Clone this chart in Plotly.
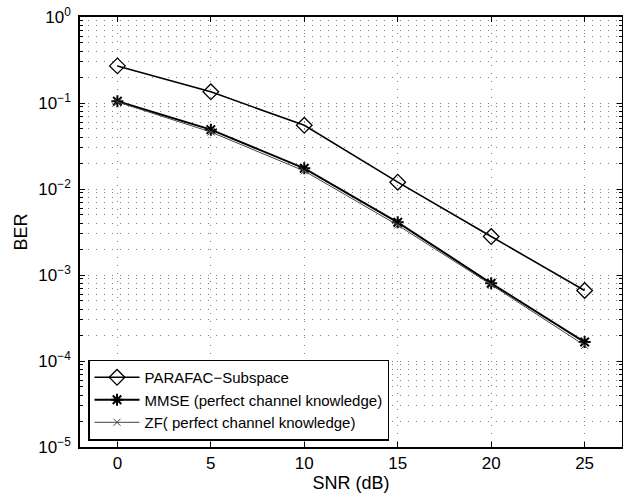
import plotly.graph_objects as go

snr = [0, 5, 10, 15, 20, 25]
ber_parafac = [0.27, 0.135, 0.055, 0.012, 0.0028, 0.00066]
ber_mmse = [0.105, 0.049, 0.0174, 0.0041, 0.00080, 0.000166]
ber_zf = [0.103, 0.046, 0.0162, 0.0038, 0.00077, 0.000152]

names = ["PARAFAC\u2212Subspace", "MMSE (perfect channel knowledge)", "ZF( perfect channel knowledge)"]

y_major = [1e-5, 1e-4, 1e-3, 1e-2, 1e-1, 1e0]
y_major_text = ["10<sup>\u22125</sup>", "10<sup>\u22124</sup>", "10<sup>\u22123</sup>",
                "10<sup>\u22122</sup>", "10<sup>\u22121</sup>", "10<sup>0</sup>"]
y_minor = [m * 10.0 ** e for e in range(-5, 0) for m in range(2, 10)]
x_ticks = [0, 5, 10, 15, 20, 25]

fig = go.Figure()
fig.add_trace(go.Scatter(x=snr, y=ber_parafac, name=names[0], mode="lines+markers",
                         line=dict(color="black", width=1.6),
                         marker=dict(symbol="diamond-open", size=12, color="black",
                                     line=dict(width=1.3, color="black"))))
fig.add_trace(go.Scatter(x=snr, y=ber_mmse, name=names[1], mode="lines+markers",
                         line=dict(color="black", width=2),
                         marker=dict(symbol="asterisk-open", size=10, color="black",
                                     line=dict(width=2, color="black"))))
fig.add_trace(go.Scatter(x=snr, y=ber_zf, name=names[2], mode="lines+markers",
                         line=dict(color="#444444", width=1),
                         marker=dict(symbol="x-thin-open", size=7, color="#444444",
                                     line=dict(width=1, color="#444444"))))

grid_dash = "1px,7px"
grid_color = "#808080"
tick_font = dict(family="Liberation Sans, Arial, sans-serif", size=17, color="black")
title_font = dict(family="Liberation Sans, Arial, sans-serif", size=18, color="black")

fig.update_layout(
    width=623, height=501,
    margin=dict(l=80, r=1, t=17, b=54),
    paper_bgcolor="white", plot_bgcolor="white",
    font=dict(family="Liberation Sans, Arial, sans-serif", size=15, color="black"),
    showlegend=True,
    legend=dict(x=0.0148, y=0.015, xanchor="left", yanchor="bottom",
                bgcolor="white", bordercolor="black", borderwidth=1.5,
                font=dict(size=15), itemwidth=45, tracegroupgap=0),
    xaxis=dict(range=[-2, 27], tickvals=x_ticks, ticks="inside", ticklen=5,
               tickcolor="black", mirror="ticks", showline=True, linecolor="black",
               linewidth=1.5, showgrid=True, gridcolor=grid_color, griddash=grid_dash,
               gridwidth=1, zeroline=False, automargin=False,
               title=dict(text="SNR (dB)", standoff=2, font=title_font), tickfont=tick_font),
    yaxis=dict(type="log", range=[-5, 0], tickvals=y_major, ticktext=y_major_text,
               ticks="inside", ticklen=5, tickcolor="black", mirror="ticks",
               showline=True, linecolor="black", linewidth=1.5,
               showgrid=True, gridcolor=grid_color, griddash=grid_dash, gridwidth=1,
               zeroline=False, automargin=False, ticklabelstandoff=4,
               minor=dict(tickvals=y_minor, ticks="inside", ticklen=3, tickcolor="black",
                          showgrid=True, gridcolor=grid_color, griddash=grid_dash, gridwidth=1),
               title=dict(text="BER", standoff=6, font=title_font), tickfont=tick_font),
)

fig.write_html("out.html", config={"displayModeBar": False},
               post_script="document.body.style.margin='0';")
